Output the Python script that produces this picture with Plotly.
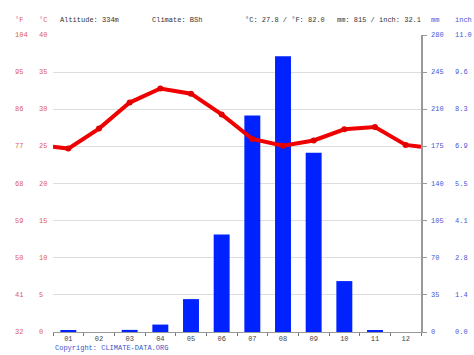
import plotly.graph_objects as go

months = ["01", "02", "03", "04", "05", "06", "07", "08", "09", "10", "11", "12"]
temp_c = [24.7, 27.4, 30.9, 32.8, 32.1, 29.3, 26.0, 25.1, 25.8, 27.3, 27.6, 25.2]
precip_mm = [1, 0, 2, 7, 31, 92, 204, 260, 169, 48, 1, 0]

c_ticks = [0, 5, 10, 15, 20, 25, 30, 35, 40]
f_labels = ["32", "41", "50", "59", "68", "77", "86", "95", "104"]
mm_ticks = [0, 35, 70, 105, 140, 175, 210, 245, 280]
inch_labels = ["0.0", "1.4", "2.8", "4.1", "5.5", "6.9", "8.3", "9.6", "11.0"]

W, H = 474, 355
L, R, T, B = 53, 53, 35, 23
PW, PH = W - L - R, H - T - B

def px(x):
    return (x - L) / PW

def py(y):
    return (H - B - y) / PH

FONT = "Liberation Mono, DejaVu Sans Mono, monospace"
RED = "#e05a5a"
BLUE = "#4a55d8"

xs = list(range(1, 13))
edge = (temp_c[0] + temp_c[-1]) / 2
line_x = [0.5] + xs + [12.5]
line_y = [edge] + temp_c + [edge]
msize = [0] + [6] * 12 + [0]

fig = go.Figure()
fig.add_trace(go.Bar(x=xs, y=precip_mm, width=0.52, marker=dict(color="#0022ff", line=dict(width=0)),
                     yaxis="y", hoverinfo="skip"))
fig.add_trace(go.Scatter(x=line_x, y=line_y, mode="lines+markers", yaxis="y2",
                         line=dict(color="#f00000", width=4),
                         marker=dict(size=msize, color="#e00000", opacity=1,
                                     line=dict(width=0, color="#e00000")),
                         hoverinfo="skip"))

ann = []
for c, f in zip(c_ticks, f_labels):
    ann.append(dict(x=px(13), y=c, xref="paper", yref="y2", text=f, showarrow=False,
                    xanchor="left", yanchor="middle", font=dict(family=FONT, size=7, color=RED)))
    ann.append(dict(x=px(37), y=c, xref="paper", yref="y2", text=str(c), showarrow=False,
                    xanchor="left", yanchor="middle", font=dict(family=FONT, size=7, color=RED)))
for m, i in zip(mm_ticks, inch_labels):
    ann.append(dict(x=px(429), y=m, xref="paper", yref="y", text=str(m), showarrow=False,
                    xanchor="left", yanchor="middle", font=dict(family=FONT, size=7, color=BLUE)))
    ann.append(dict(x=px(453), y=m, xref="paper", yref="y", text=i, showarrow=False,
                    xanchor="left", yanchor="middle", font=dict(family=FONT, size=7, color=BLUE)))

header = [
    (13, "°F", RED), (37, "°C", RED), (58, "Altitude: 334m", "#333333"),
    (150, "Climate: BSh", "#333333"), (243, "°C: 27.8 / °F: 82.0", "#333333"),
    (335, "mm: 815 / inch: 32.1", "#333333"), (429, "mm", BLUE), (453, "inch", BLUE),
]
for x, t, col in header:
    ann.append(dict(x=px(x), y=py(20), xref="paper", yref="paper", text=t, showarrow=False,
                    xanchor="left", yanchor="middle", font=dict(family=FONT, size=7, color=col)))
ann.append(dict(x=px(53), y=py(348), xref="paper", yref="paper", text="Copyright: CLIMATE-DATA.ORG",
                showarrow=False, xanchor="left", yanchor="middle",
                font=dict(family=FONT, size=7, color="#3a55c8")))

fig.update_layout(
    width=W, height=H, margin=dict(l=L, r=R, t=T, b=B),
    paper_bgcolor="white", plot_bgcolor="white", showlegend=False,
    annotations=ann,
    xaxis=dict(range=[0.5, 12.5], tickvals=xs, ticktext=months, ticks="", showgrid=False,
               zeroline=False, showline=True, linecolor="#999999", linewidth=1,
               tickfont=dict(family=FONT, size=7, color="#444444"),
               minor=dict(ticks="outside", tick0=0.5, dtick=1, ticklen=3, tickcolor="#777777",
                          showgrid=False)),
    yaxis=dict(range=[0, 280], tickvals=mm_ticks, side="right", showticklabels=False,
               showgrid=True, gridcolor="#dddddd", gridwidth=1, zeroline=False,
               showline=True, linecolor="#999999", linewidth=2,
               ticks="outside", ticklen=4, tickcolor="#999999"),
    yaxis2=dict(range=[0, 40], tickvals=c_ticks, overlaying="y", side="left",
                showticklabels=False, showgrid=False, zeroline=False, showline=False),
)

fig.write_html("out.html")
